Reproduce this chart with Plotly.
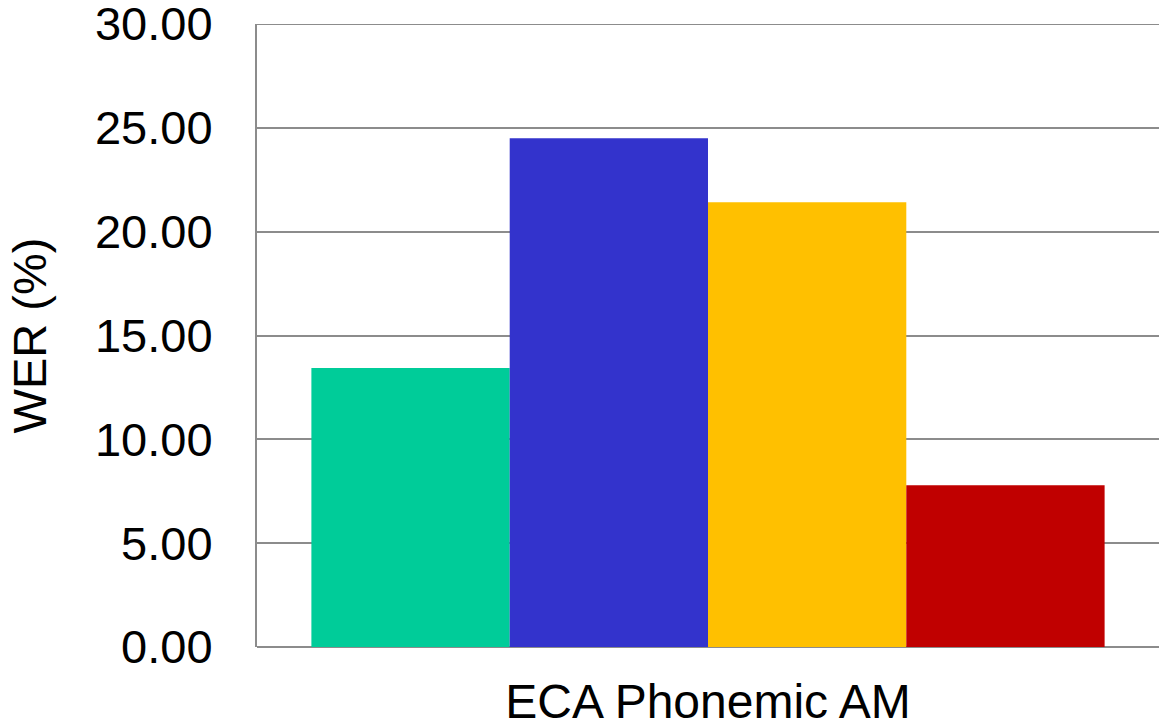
import plotly.graph_objects as go

category = ["ECA Phonemic AM"]
series_names = ["System A", "System B", "System C", "System D"]
series_values = [13.43, 24.50, 21.42, 7.79]
series_colors = ["#00CC99", "#3333CC", "#FFC000", "#C00000"]
y_ticks = [0, 5, 10, 15, 20, 25, 30]
y_ticklabels = ["0.00", "5.00", "10.00", "15.00", "20.00", "25.00", "30.00"]
y_max = 30

fig = go.Figure()
for name, val, col in zip(series_names, series_values, series_colors):
    fig.add_trace(go.Bar(x=category, y=[val], name=name, marker=dict(color=col, line=dict(width=0))))

grid_color = "#8C8C8C"
font = "Liberation Sans, Arial, sans-serif"
fig.update_layout(
    width=1163, height=728,
    margin=dict(l=257, r=4, t=24, b=81, autoexpand=False),
    paper_bgcolor="white", plot_bgcolor="white",
    barmode="group", bargap=0.1206, bargroupgap=0,
    showlegend=False,
    font=dict(family=font, color="black"),
)
# top gridline at the axis maximum (plotly omits the grid line at the range edge)
fig.add_shape(type="line", xref="paper", yref="y", x0=0, x1=1, y0=y_max, y1=y_max,
              line=dict(color=grid_color, width=2), layer="below")
fig.update_xaxes(
    showline=False, showgrid=False, zeroline=False, automargin=False,
    tickfont=dict(size=48, family=font), ticks="", ticklabelstandoff=22,
)
fig.update_yaxes(
    range=[0, y_max], tickvals=y_ticks, ticktext=y_ticklabels,
    automargin=False, ticklabeloverflow="allow",
    showgrid=True, gridcolor=grid_color, gridwidth=2,
    showline=True, linecolor=grid_color, linewidth=2,
    zeroline=True, zerolinecolor=grid_color, zerolinewidth=2,
    tickfont=dict(size=47, family=font), ticks="", ticklabelstandoff=33,
    title=dict(text="WER (%)", font=dict(size=47, family=font), standoff=34),
)
fig.write_html("out.html", config={"displayModeBar": False},
               post_script="document.body.style.margin='0';document.body.style.padding='0';")
